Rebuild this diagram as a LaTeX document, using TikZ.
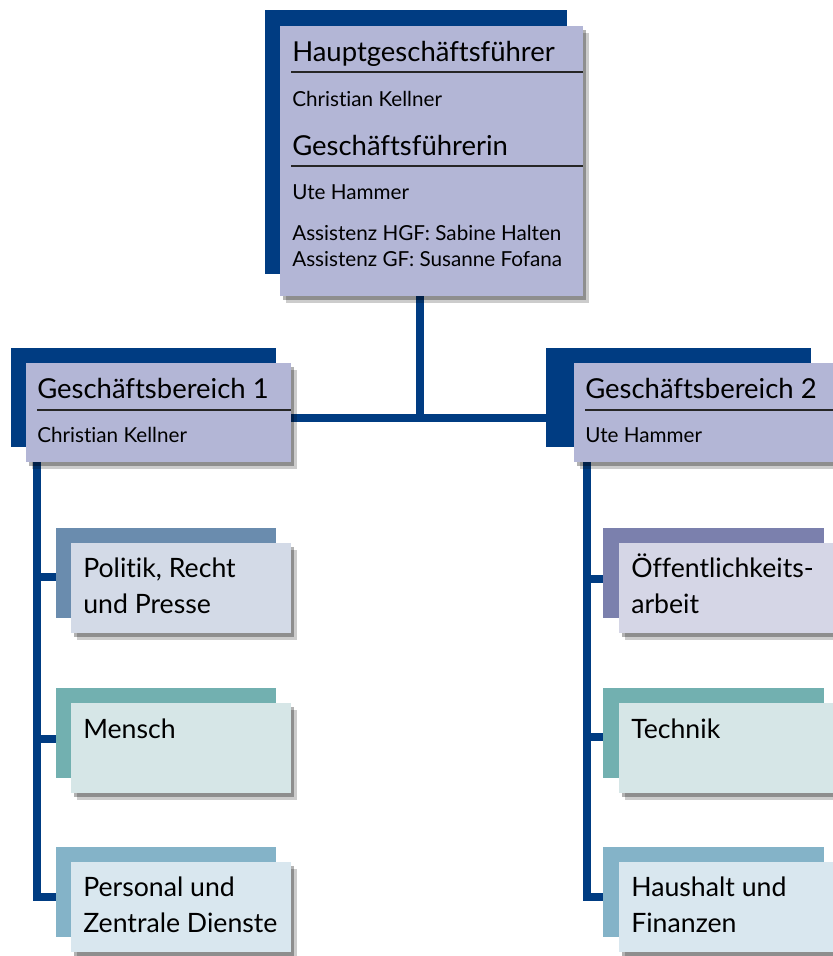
\documentclass[tikz,border=0pt]{standalone}
\usepackage{fontspec}
\setmainfont{Lato}[Ligatures=NoCommon]
\usetikzlibrary{positioning,fit,shadows,backgrounds}
\definecolor{navy}{RGB}{0,60,130}
\definecolor{lav}{RGB}{179,182,214}
\definecolor{steelbg}{RGB}{106,140,174}
\definecolor{steelfg}{RGB}{211,218,231}
\definecolor{violetbg}{RGB}{123,128,173}
\definecolor{violetfg}{RGB}{213,214,230}
\definecolor{tealbg}{RGB}{114,176,176}
\definecolor{tealfg}{RGB}{214,230,231}
\definecolor{skybg}{RGB}{132,179,200}
\definecolor{skyfg}{RGB}{217,231,239}

\begin{document}
\begin{tikzpicture}[
  x=0.75pt, y=-0.75pt,
  bg/.style={inner sep=0pt, outer sep=0pt},
  card/.style={inner sep=0pt, outer sep=0pt,
    drop shadow={shadow xshift=2.5pt, shadow yshift=-3pt, opacity=.3, fill=black},
    drop shadow={shadow xshift=4.5pt, shadow yshift=-5pt, opacity=.2, fill=black}},
  headtxt/.style={anchor=base west, inner sep=0pt, font=\fontsize{20.6}{24}\selectfont},
  persontxt/.style={anchor=base west, inner sep=0pt, font=\fontsize{15.5}{18}\selectfont},
  unittxt/.style={anchor=base west, inner sep=0pt, align=left, font=\fontsize{20}{26.5}\selectfont},
  sepline/.style={line width=1.5pt, black!85},
  conn/.style={draw=navy, line width=6pt}
]
\useasboundingbox (0,0) rectangle (832,956);
% Leitung
\node[bg, fill=navy, fit={(265,10)(567,274)}] (hgfbg) {};
\node[card, fill=lav, fit={(280,26)(583,296)}] (hgf) {};
\node[headtxt] (hgftitle) at (292,61) {Hauptgeschäftsführer};
\draw[sepline] (291,72) -- (hgf.east |- 0,72);
\node[persontxt] (hgfname) at (292,106) {Christian Kellner};
\node[headtxt] (gftitle) at (292,155) {Geschäftsführerin};
\draw[sepline] (291,166) -- (hgf.east |- 0,166);
\node[persontxt] (gfname) at (292,199) {Ute Hammer};
\node[persontxt] (assist1) at (292,240) {Assistenz HGF: Sabine Halten};
\node[persontxt] (assist2) at (292,266) {Assistenz GF: Susanne Fofana};
% Geschaeftsbereiche
\node[bg, fill=navy, fit={(11,348)(276,447)}] (gb1bg) {};
\node[card, fill=lav, fit={(26,363)(291,462)}] (gb1) {};
\node[headtxt] (gb1title) at (37,398) {Geschäftsbereich 1};
\draw[sepline] (37,410) -- (gb1.east |- 0,410);
\node[persontxt] (gb1name) at (37,442) {Christian Kellner};
\node[bg, fill=navy, fit={(546,348)(811,447)}] (gb2bg) {};
\node[card, fill=lav, fit={(574,363)(839,462)}] (gb2) {};
\node[headtxt] (gb2title) at (585,398) {Geschäftsbereich 2};
\draw[sepline] (585,410) -- (gb2.east |- 0,410);
\node[persontxt] (gb2name) at (585,442) {Ute Hammer};
% Abteilungen GB 1
\node[bg, fill=steelbg, fit={(56,528)(276,618)}] (polbg) {};
\node[card, fill=steelfg, fit={(71,543)(291,633)}] (pol) {};
\node[unittxt] (poltxt) at (83,613) {Politik, Recht\\und Presse};
\node[bg, fill=tealbg, fit={(56,688)(276,778)}] (menbg) {};
\node[card, fill=tealfg, fit={(71,703)(291,793)}] (men) {};
\node[unittxt] (mentxt) at (83,738) {Mensch};
\node[bg, fill=skybg, fit={(56,847)(276,937)}] (perbg) {};
\node[card, fill=skyfg, fit={(71,862)(291,952)}] (per) {};
\node[unittxt] (pertxt) at (83,932) {Personal und\\Zentrale Dienste};
% Abteilungen GB 2
\node[bg, fill=violetbg, fit={(603,528)(824,618)}] (oefbg) {};
\node[card, fill=violetfg, fit={(619,543)(839,633)}] (oef) {};
\node[unittxt] (oeftxt) at (631,613) {Öffentlichkeits-\\arbeit};
\node[bg, fill=tealbg, fit={(603,688)(824,778)}] (tecbg) {};
\node[card, fill=tealfg, fit={(619,703)(839,793)}] (tec) {};
\node[unittxt] (tectxt) at (631,738) {Technik};
\node[bg, fill=skybg, fit={(603,847)(824,937)}] (haubg) {};
\node[card, fill=skyfg, fit={(619,862)(839,952)}] (hau) {};
\node[unittxt] (hautxt) at (631,932) {Haushalt und\\Finanzen};
% Verbindungen
\begin{scope}[on background layer]
\coordinate (junction) at (420,418);
\coordinate (spineL) at (37,462);
\coordinate (spineR) at (587,462);
\draw[conn] (hgf.south -| junction) -- (junction);
\draw[conn] (gb1.east |- junction) -- (gb2.west |- junction);
\draw[conn] (spineL) |- ([yshift=-3.5pt]perbg.west);
\draw[conn] ([yshift=-3pt]spineL |- polbg.west) -- ([yshift=-3pt]polbg.west);
\draw[conn] ([yshift=-4.5pt]spineL |- menbg.west) -- ([yshift=-4.5pt]menbg.west);
\draw[conn] (spineR) |- ([yshift=-4pt]haubg.west);
\draw[conn] ([yshift=-4.5pt]spineR |- oefbg.west) -- ([yshift=-4.5pt]oefbg.west);
\draw[conn] ([yshift=-3pt]spineR |- tecbg.west) -- ([yshift=-3pt]tecbg.west);
\end{scope}
\end{tikzpicture}
\end{document}
